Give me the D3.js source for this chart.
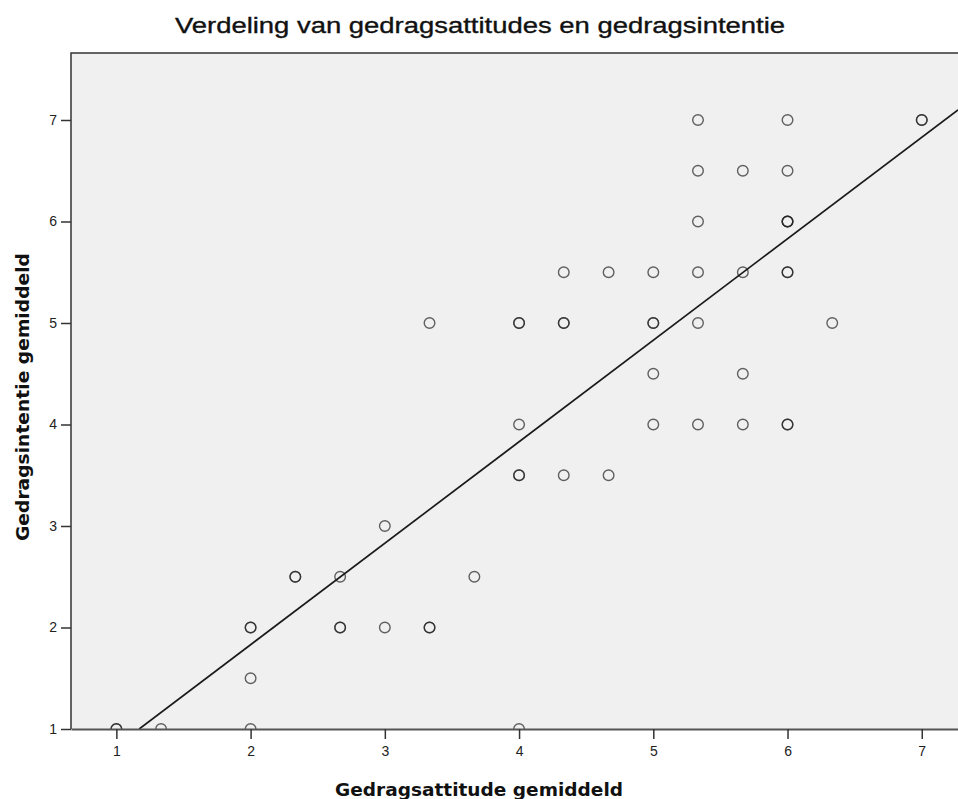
<!DOCTYPE html>
<html>
<head>
<meta charset="utf-8">
<script src="https://cdn.jsdelivr.net/npm/d3@7"></script>
<style>
  body { margin: 0; background: #fff; }
</style>
</head>
<body>
<div id="chart"></div>
<script>
// points (x, y, how many overlap)
const attitude  = [1, 1.333, 2, 2, 2, 2.333, 2.667, 2.667, 3, 3, 3.333, 3.333, 3.667,
                   4, 4, 4, 4, 4.333, 4.333, 4.333, 4.667, 4.667,
                   5, 5, 5, 5, 5.333, 5.333, 5.333, 5.333, 5.333, 5.333,
                   5.667, 5.667, 5.667, 5.667, 6, 6, 6, 6, 6, 6.333, 7];
const intentie  = [1, 1, 1, 1.5, 2, 2.5, 2.5, 2, 3, 2, 2, 5, 2.5,
                   1, 3.5, 4, 5, 5, 5.5, 3.5, 5.5, 3.5,
                   5.5, 5, 4.5, 4, 7, 6.5, 6, 5.5, 5, 4,
                   6.5, 5.5, 4.5, 4, 7, 6.5, 6, 5.5, 4, 5, 7];
const overlap   = [2, 1, 1, 1, 2, 2, 1, 2, 1, 1, 2, 1, 1,
                   1, 2, 1, 2, 2, 1, 1, 1, 1,
                   1, 2, 1, 1, 1, 1, 1, 1, 1, 1,
                   1, 1, 1, 1, 1, 1, 3, 2, 2, 1, 2];
const xTicks = [1, 2, 3, 4, 5, 6, 7];
const yTicks = [1, 2, 3, 4, 5, 6, 7];
const fitLine = { intercept: -0.17, slope: 1.0 };

const W = 958, H = 799;
const margin = { Top: 53, Right: 0, Bottom: 70, Left: 71 };

const svg = d3.select("#chart").append("svg")
    .attr("width", W).attr("height", H);

const xScale = d3.scaleLinear()
    .domain([0.662, 7.27])
    .range([margin.Left, W - margin.Right]);
const yScale = d3.scaleLinear()
    .domain([1, 7.66])
    .range([H - margin.Bottom, margin.Top]);

// plot background
svg.append("rect")
    .attr("x", margin.Left).attr("y", margin.Top)
    .attr("width", W - margin.Left - margin.Right)
    .attr("height", H - margin.Bottom - margin.Top)
    .attr("fill", "#f0f0f0");

svg.append("defs").append("clipPath").attr("id", "plotClip")
  .append("rect")
    .attr("x", margin.Left).attr("y", margin.Top)
    .attr("width", W - margin.Left - margin.Right)
    .attr("height", H - margin.Bottom - margin.Top);

// points, drawn once per overlapping case
const pts = [];
attitude.forEach((x, i) => { for (let k = 0; k < overlap[i]; k++) pts.push({ x: x, y: intentie[i] }); });

svg.append("g")
    .attr("clip-path", "url(#plotClip)")
    .selectAll("circle")
    .data(pts)
    .join("circle")
      .attr("cx", d => xScale(d.x))
      .attr("cy", d => yScale(d.y))
      .attr("r", 5.3)
      .attr("fill", "none")
      .attr("stroke", "#222")
      .attr("stroke-opacity", 0.7)
      .attr("stroke-width", 1.4);

// fit line
const x0 = (1 - fitLine.intercept) / fitLine.slope, x1 = xScale.domain()[1];
svg.append("line")
    .attr("clip-path", "url(#plotClip)")
    .attr("x1", xScale(x0)).attr("y1", yScale(fitLine.intercept + fitLine.slope * x0))
    .attr("x2", xScale(x1)).attr("y2", yScale(fitLine.intercept + fitLine.slope * x1))
    .attr("stroke", "#1a1a1a")
    .attr("stroke-width", 1.7);

// frame: top + left
svg.append("path")
    .attr("d", `M${W},${margin.Top}H${margin.Left}V${H - margin.Bottom}`)
    .attr("fill", "none")
    .attr("stroke", "#333")
    .attr("stroke-width", 1.5);

// X axis
const xAxis = svg.append("g")
    .attr("transform", `translate(0, ${H - margin.Bottom})`)
    .call(d3.axisBottom(xScale).tickValues(xTicks).tickFormat(d3.format("d"))
        .tickSizeInner(10).tickSizeOuter(0).tickPadding(7));
xAxis.select(".domain").attr("stroke", "#555").attr("stroke-width", 2.2);
xAxis.selectAll(".tick line").attr("stroke", "#333").attr("stroke-width", 1.5);
xAxis.selectAll("text").attr("font-family", "Liberation Sans, Arial, sans-serif")
    .attr("font-size", 14).attr("fill", "#222");

// Y axis
const yAxis = svg.append("g")
    .attr("transform", `translate(${margin.Left}, 0)`)
    .call(d3.axisLeft(yScale).tickValues(yTicks).tickFormat(d3.format("d"))
        .tickSizeInner(10).tickSizeOuter(0).tickPadding(4));
yAxis.select(".domain").remove();
yAxis.selectAll(".tick line").attr("stroke", "#333").attr("stroke-width", 1.5);
yAxis.selectAll("text").attr("font-family", "Liberation Sans, Arial, sans-serif")
    .attr("font-size", 14).attr("fill", "#222");

// titles
svg.append("text")
    .attr("x", 480).attr("y", 33)
    .attr("text-anchor", "middle")
    .attr("font-family", "Liberation Sans, Arial, sans-serif")
    .attr("font-size", 22)
    .attr("fill", "#111")
    .attr("stroke", "#111")
    .attr("stroke-width", 0.35)
    .attr("textLength", 610)
    .attr("lengthAdjust", "spacingAndGlyphs")
    .text("Verdeling van gedragsattitudes en gedragsintentie");

svg.append("text")
    .attr("x", 479).attr("y", 796)
    .attr("text-anchor", "middle")
    .attr("font-family", "DejaVu Sans, Verdana, sans-serif")
    .attr("font-weight", "bold")
    .attr("font-size", 17)
    .attr("fill", "#111")
    .attr("textLength", 288)
    .attr("lengthAdjust", "spacingAndGlyphs")
    .text("Gedragsattitude gemiddeld");

svg.append("text")
    .attr("transform", "translate(29, 397) rotate(-90)")
    .attr("text-anchor", "middle")
    .attr("font-family", "DejaVu Sans, Verdana, sans-serif")
    .attr("font-weight", "bold")
    .attr("font-size", 17)
    .attr("fill", "#111")
    .attr("textLength", 288)
    .attr("lengthAdjust", "spacingAndGlyphs")
    .text("Gedragsintentie gemiddeld");
</script>
</body>
</html>
